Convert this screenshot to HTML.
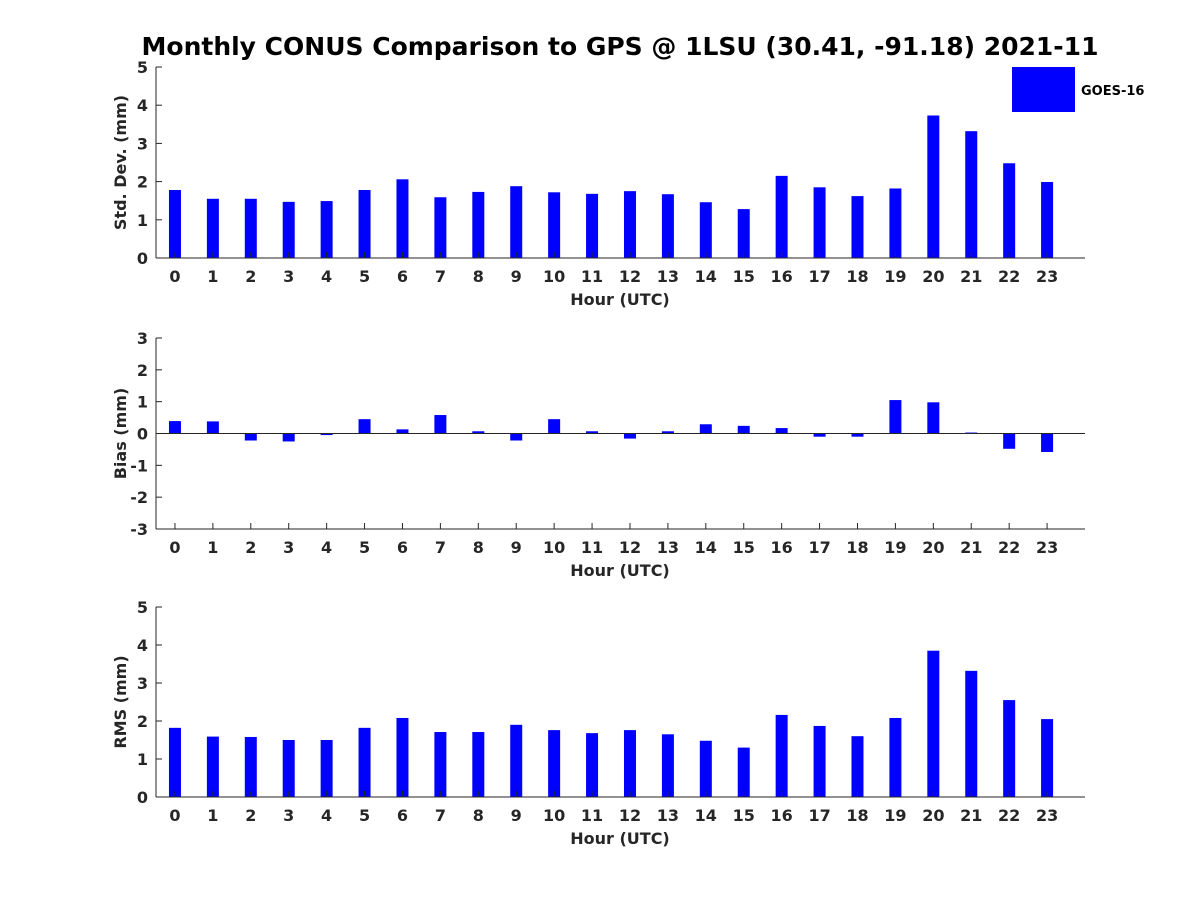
<!DOCTYPE html>
<html><head><meta charset="utf-8"><style>
body{margin:0;background:#fff}
svg text{font-family:"DejaVu Sans","Liberation Sans",sans-serif;font-weight:bold;fill:#262626}
</style></head><body>
<svg id="chart" width="1200" height="900" xmlns="http://www.w3.org/2000/svg">
<rect width="1200" height="900" fill="#fff"/>
<text x="620" y="55" font-size="25" text-anchor="middle" style="fill:#000">Monthly CONUS Comparison to GPS @ 1LSU (30.41, -91.18) 2021-11</text>
<g>
<rect x="1012" y="67" width="63" height="45" fill="#0000ff"/>
<text x="1081" y="95" font-size="13" style="fill:#000">GOES-16</text>
</g>
</svg>
<script>
const hours=[0,1,2,3,4,5,6,7,8,9,10,11,12,13,14,15,16,17,18,19,20,21,22,23];
const stdVals=[1.78,1.55,1.55,1.47,1.49,1.78,2.06,1.59,1.73,1.88,1.72,1.68,1.75,1.67,1.46,1.28,2.15,1.85,1.62,1.82,3.73,3.32,2.48,1.99];
const biasVals=[0.39,0.38,-0.22,-0.25,-0.05,0.45,0.13,0.58,0.07,-0.22,0.45,0.07,-0.16,0.07,0.29,0.24,0.17,-0.10,-0.10,1.05,0.98,0.03,-0.48,-0.58];
const rmsVals=[1.82,1.59,1.58,1.50,1.50,1.82,2.08,1.71,1.71,1.90,1.76,1.68,1.76,1.65,1.48,1.30,2.16,1.87,1.60,2.08,3.85,3.32,2.55,2.05];
const stdTicks=[0,1,2,3,4,5];
const biasTicks=[-3,-2,-1,0,1,2,3];
const rmsTicks=[0,1,2,3,4,5];
const NS='http://www.w3.org/2000/svg';
const svg=document.getElementById('chart');
function mk(tag,attrs,parent){const e=document.createElementNS(NS,tag);for(const k in attrs)e.setAttribute(k,attrs[k]);(parent||svg).appendChild(e);return e;}
function panel(key,vals,ticks,ymin,ymax,top,bottom,ylabel){
  const g=mk('g',{});
  
  
  const x0=156,x1=1085;
  const xs=h=>x0+(h+0.5)*(x1-x0)/24.5;
  const ys=v=>bottom-(v-ymin)*(bottom-top)/(ymax-ymin);
  const bw=12;
  vals.forEach((v,i)=>{
    const y=Math.min(ys(v),ys(0)),h=Math.abs(ys(v)-ys(0));
    const r=mk('rect',{x:xs(hours[i])-bw/2,y:y,width:bw,height:Math.max(h,0.8),fill:'#0000ff'},g);
    
    
  });
  mk('line',{x1:x0,y1:top,x2:x0,y2:bottom,stroke:'#262626'},g);
  mk('line',{x1:x0,y1:bottom,x2:x1,y2:bottom,stroke:'#262626'},g);
  if(ymin<0) mk('line',{x1:x0,y1:ys(0),x2:x1,y2:ys(0),stroke:'#262626'},g);
  ticks.forEach(t=>{
    mk('line',{x1:x0,y1:ys(t),x2:x0+6,y2:ys(t),stroke:'#262626'},g);
    const tx=mk('text',{x:x0-8,y:ys(t)+6,'font-size':16,'text-anchor':'end'},g);
    tx.textContent=t;
    
    
  });
  hours.forEach(h=>{
    mk('line',{x1:xs(h),y1:bottom,x2:xs(h),y2:bottom-6,stroke:'#262626'},g);
    const tx=mk('text',{x:xs(h),y:bottom+24,'font-size':16,'text-anchor':'middle'},g);
    tx.textContent=h;
    
    
  });
  const xl=mk('text',{x:620,y:bottom+47,'font-size':16,'text-anchor':'middle'},g);
  xl.textContent='Hour (UTC)';
  
  
  const cy=(top+bottom)/2;
  const yl=mk('text',{x:126,y:cy,'font-size':16,'text-anchor':'middle',transform:'rotate(-90 126 '+cy+')'},g);
  yl.textContent=ylabel;
  
  
}
panel('std',stdVals,stdTicks,0,5,67,258,'Std. Dev. (mm)');
panel('bias',biasVals,biasTicks,-3,3,338,529,'Bias (mm)');
panel('rms',rmsVals,rmsTicks,0,5,607,797,'RMS (mm)');
</script>
</body></html>
